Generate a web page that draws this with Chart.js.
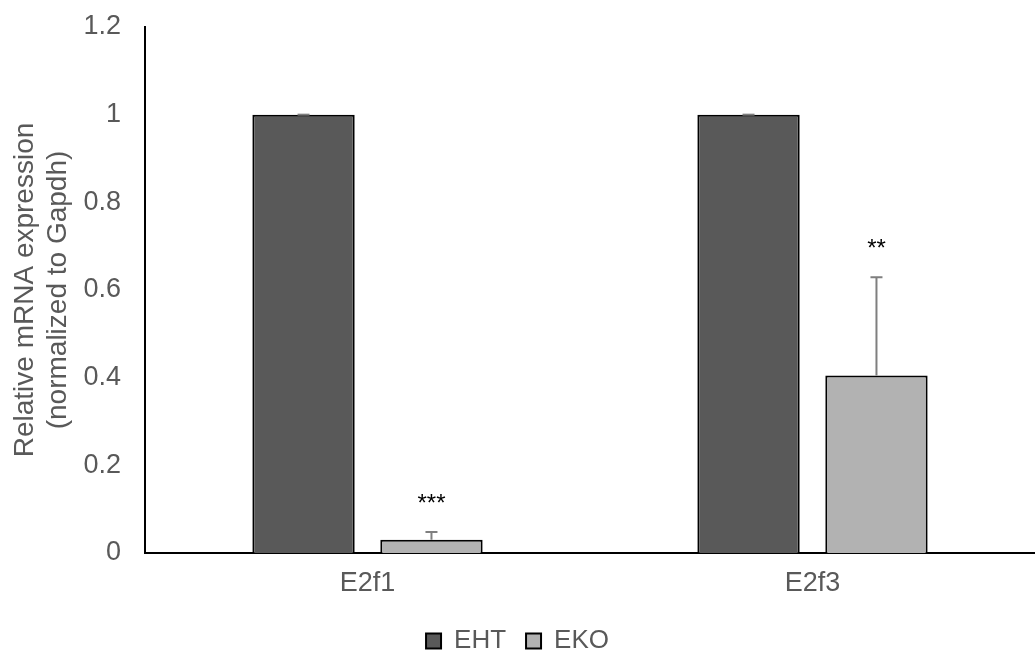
<!DOCTYPE html>
<html>
<head>
<meta charset="utf-8">
<script src="https://cdn.jsdelivr.net/npm/chart.js@4/dist/chart.umd.min.js"></script>
<style>
html,body{margin:0;padding:0;background:#fff;overflow:hidden;}
#wrap{width:1035px;height:653px;}
</style>
</head>
<body>
<div id="wrap"><canvas id="c" width="1035" height="653"></canvas></div>
<script>
const categories = ["E2f1", "E2f3"];
const seriesNames = ["EHT", "EKO"];
const ehtValues = [1, 1];
const ekoValues = [0.03, 0.405];
const ehtErrors = [0, 0];
const ekoErrors = [0.018, 0.224];
const significance = ["***", "**"];
const yTicks = [0, 0.2, 0.4, 0.6, 0.8, 1, 1.2];

const FONT = '"Liberation Sans", Arial, sans-serif';

const errorPlugin = {
  id: 'errs',
  afterDatasetsDraw(chart) {
    const ctx = chart.ctx;
    const y = chart.scales.y;
    const errs = [ehtErrors, ekoErrors];
    chart.data.datasets.forEach((ds, di) => {
      const meta = chart.getDatasetMeta(di);
      meta.data.forEach((bar, i) => {
        const v = ds.data[i];
        const yTop = y.getPixelForValue(v + errs[di][i]);
        const yBase = y.getPixelForValue(v);
        ctx.save();
        ctx.strokeStyle = '#7f7f7f';
        ctx.lineWidth = 2;
        ctx.beginPath();
        ctx.moveTo(bar.x, yBase);
        ctx.lineTo(bar.x, yTop);
        ctx.moveTo(bar.x - 6, yTop);
        ctx.lineTo(bar.x + 6, yTop);
        ctx.stroke();
        if (di === 1) {
          ctx.fillStyle = '#000';
          ctx.font = '24px ' + FONT;
          ctx.textAlign = 'center';
          ctx.textBaseline = 'middle';
          ctx.fillText(significance[i], bar.x, yTop - 28);
        }
        ctx.restore();
      });
    });
  }
};

new Chart(document.getElementById('c'), {
  type: 'bar',
  data: {
    labels: categories,
    datasets: [
      { label: seriesNames[0], data: ehtValues, backgroundColor: '#595959', borderColor: '#000', borderWidth: 2, borderSkipped: 'bottom' },
      { label: seriesNames[1], data: ekoValues, backgroundColor: '#b2b2b2', borderColor: '#000', borderWidth: 2, borderSkipped: 'bottom' }
    ]
  },
  options: {
    responsive: false,
    animation: false,
    layout: { padding: { top: 27, right: 0, left: 0, bottom: -11 } },
    datasets: { bar: { categoryPercentage: 0.575, barPercentage: 0.8 } },
    plugins: {
      legend: {
        position: 'bottom',
        labels: {
          font: { family: FONT, size: 26 },
          color: '#595959',
          boxWidth: 15, boxHeight: 15,
          padding: 20,
          generateLabels(chart) {
            return chart.data.datasets.map((ds, i) => ({
              text: ds.label, fillStyle: ds.backgroundColor, strokeStyle: '#000', lineWidth: 2,
              fontColor: '#595959', datasetIndex: i, hidden: false
            }));
          }
        }
      },
      tooltip: { enabled: false }
    },
    scales: {
      x: {
        grid: { display: false, drawTicks: false },
        border: { color: '#000', width: 2 },
        ticks: { color: '#595959', font: { family: FONT, size: 27 }, padding: 14 },
        afterFit(s) { s.height = 55; s.paddingLeft = 0; s.paddingRight = 0; }
      },
      y: {
        min: 0, max: 1.2,
        afterBuildTicks(s) { s.ticks = yTicks.map(v => ({ value: v })); },
        grid: { display: false, drawTicks: false },
        border: { color: '#000', width: 2 },
        ticks: {
          color: '#595959', padding: 24,
          font: { family: FONT, size: 27 },
          callback: v => String(v)
        },
        title: {
          display: true,
          text: ['Relative mRNA expression', '(normalized to Gapdh)'],
          color: '#595959',
          font: { family: FONT, size: 28, lineHeight: 1.2 },
          padding: { top: 8, bottom: 4 }
        },
        afterFit(s) { s.width = 145; s.paddingTop = 0; s.paddingBottom = 0; }
      }
    }
  },
  plugins: [errorPlugin]
});
</script>
</body>
</html>
